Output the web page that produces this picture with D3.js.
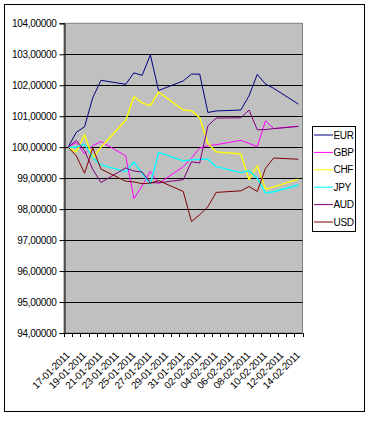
<!DOCTYPE html>
<html><head><meta charset="utf-8">
<script src="https://cdn.jsdelivr.net/npm/d3@7"></script>
<style>html,body{margin:0;padding:0;background:#fff;}svg{display:block;font-family:"Liberation Sans",Arial,sans-serif;}</style>
</head><body>
<svg id="c" width="369" height="424"></svg>
<script>
// All calendar days on the axis (date axis)
const allDays = ["17-01-2011","18-01-2011","19-01-2011","20-01-2011","21-01-2011","22-01-2011","23-01-2011",
"24-01-2011","25-01-2011","26-01-2011","27-01-2011","28-01-2011","29-01-2011","30-01-2011",
"31-01-2011","01-02-2011","02-02-2011","03-02-2011","04-02-2011","05-02-2011","06-02-2011",
"07-02-2011","08-02-2011","09-02-2011","10-02-2011","11-02-2011","12-02-2011","13-02-2011","14-02-2011"];
// Observation dates (business days)
const dates = ["17-01-2011","18-01-2011","19-01-2011","20-01-2011","21-01-2011",
"24-01-2011","25-01-2011","26-01-2011","27-01-2011","28-01-2011",
"31-01-2011","01-02-2011","02-02-2011","03-02-2011","04-02-2011",
"07-02-2011","08-02-2011","09-02-2011","10-02-2011","11-02-2011","14-02-2011"];
const xTickLabels = ["17-01-2011","19-01-2011","21-01-2011","23-01-2011","25-01-2011","27-01-2011","29-01-2011","31-01-2011",
"02-02-2011","04-02-2011","06-02-2011","08-02-2011","10-02-2011","12-02-2011","14-02-2011"];
const yTicks = [94,95,96,97,98,99,100,101,102,103,104];
const yTickLabels = ["94,00000","95,00000","96,00000","97,00000","98,00000","99,00000","100,00000","101,00000","102,00000","103,00000","104,00000"];

const seriesNames = ["EUR","GBP","CHF","JPY","AUD","USD"];
const EUR = [100,100.48,100.66,101.6,102.16,102.03,102.4,102.32,102.98,101.83,102.14,102.36,102.36,101.12,101.17,101.2,101.66,102.35,102.04,101.9,101.39];
const GBP = [100,100.15,99.78,100.05,100.18,99.72,98.34,98.75,99.22,98.83,99.37,99.65,99.97,100.05,100.08,100.22,100.12,100.02,100.85,100.6,100.68];
const CHF = [100,99.85,100.4,99.65,100.0,100.87,101.63,101.43,101.34,101.78,101.2,101.18,100.95,100.12,99.85,99.78,98.95,99.4,98.65,98.72,98.97];
const JPY = [100,100.0,100.1,99.65,99.43,99.21,99.52,99.16,98.8,99.83,99.56,99.59,99.61,99.61,99.37,99.18,99.24,99.0,98.52,98.56,98.78];
const AUD = [100,100.22,99.89,99.28,98.86,99.33,99.23,99.2,98.85,98.85,98.95,99.53,99.49,100.69,100.94,100.95,101.2,100.56,100.57,100.6,100.67];
const USD = [100,99.72,99.16,99.97,99.29,98.9,98.88,98.82,98.84,98.92,98.57,97.6,97.82,98.08,98.54,98.59,98.73,98.57,99.32,99.65,99.61];
const colors = ["#000080","#FF00FF","#FFFF00","#00FFFF","#800080","#800000"];

const series = [EUR,GBP,CHF,JPY,AUD,USD].map((vals,i)=>({name:seriesNames[i],color:colors[i],values:vals}));

const svg = d3.select("#c");
const plot = {l:64, t:23.3, r:302.5, b:333};

// chart area border
svg.append("rect").attr("x",4.5).attr("y",4.5).attr("width",360).attr("height",407)
  .attr("fill","#fff").attr("stroke","#000").attr("stroke-width",1);

const x = d3.scaleBand().domain(allDays).range([plot.l, plot.r]).paddingInner(0).paddingOuter(0);
const y = d3.scaleLinear().domain([94,104]).range([plot.b, plot.t]);
const cx = d => x(d) + x.bandwidth()/2;

// plot area
svg.append("rect").attr("x",plot.l).attr("y",plot.t).attr("width",plot.r-plot.l).attr("height",plot.b-plot.t)
  .attr("fill","#C0C0C0").attr("stroke","#808080").attr("stroke-width",1);

// gridlines
svg.append("g").selectAll("line").data(yTicks.filter(v=>v>94 && v<104)).join("line")
  .attr("x1",plot.l).attr("x2",plot.r)
  .attr("y1",d=>Math.round(y(d))+0.5).attr("y2",d=>Math.round(y(d))+0.5)
  .attr("stroke","#000").attr("stroke-width",1);

// y axis
const yAxis = d3.axisLeft(y).tickValues(yTicks).tickSize(5).tickPadding(3)
  .tickFormat((d,i)=>yTickLabels[i]);
const gy = svg.append("g").attr("transform",`translate(${plot.l+0.5},0)`).call(yAxis);
gy.select(".domain").attr("stroke","#000");
gy.selectAll(".tick line").attr("stroke","#000");
gy.selectAll("text").attr("font-size","10px").attr("fill","#000")
  .attr("font-family","'Liberation Sans',Arial,sans-serif").attr("letter-spacing","-0.3px");

// x axis: ticks at category boundaries
const gx = svg.append("g");
gx.append("line").attr("x1",plot.l).attr("x2",plot.r).attr("y1",plot.b+0.5).attr("y2",plot.b+0.5).attr("stroke","#000");
const boundaries = allDays.map(d=>x(d)).concat([plot.r]);
gx.selectAll("line.tk").data(boundaries).join("line").attr("class","tk")
  .attr("x1",d=>Math.round(d)+0.5).attr("x2",d=>Math.round(d)+0.5)
  .attr("y1",plot.b).attr("y2",plot.b+4).attr("stroke","#000");
gx.selectAll("text").data(xTickLabels).join("text")
  .attr("transform",d=>`translate(${cx(d)+2},${plot.b+23}) rotate(-45)`)
  .attr("text-anchor","end").attr("font-size","10px").attr("fill","#000")
  .attr("letter-spacing","-0.3px")
  .text(d=>d);

// lines
const line = d3.line().x((v,i)=>cx(dates[i])).y(v=>y(v));
svg.append("g").selectAll("path").data(series).join("path")
  .attr("d",s=>line(s.values)).attr("fill","none")
  .attr("stroke",s=>s.color).attr("stroke-width",s=>(s.name==="JPY"||s.name==="CHF")?1.4:1)
  .attr("stroke-linejoin","round");

// legend
const lg = svg.append("g");
lg.append("rect").attr("x",312.5).attr("y",126.5).attr("width",43).attr("height",105)
  .attr("fill","#fff").attr("stroke","#000");
series.forEach((s,i)=>{
  const yy = 135 + i*17.4;
  lg.append("line").attr("x1",314).attr("x2",333).attr("y1",yy).attr("y2",yy)
    .attr("stroke",s.color).attr("stroke-width",1);
  lg.append("text").attr("x",333.5).attr("y",yy+3.5).attr("font-size","10px").attr("fill","#000")
    .attr("letter-spacing","-0.3px").text(s.name);
});
</script>
</body></html>
